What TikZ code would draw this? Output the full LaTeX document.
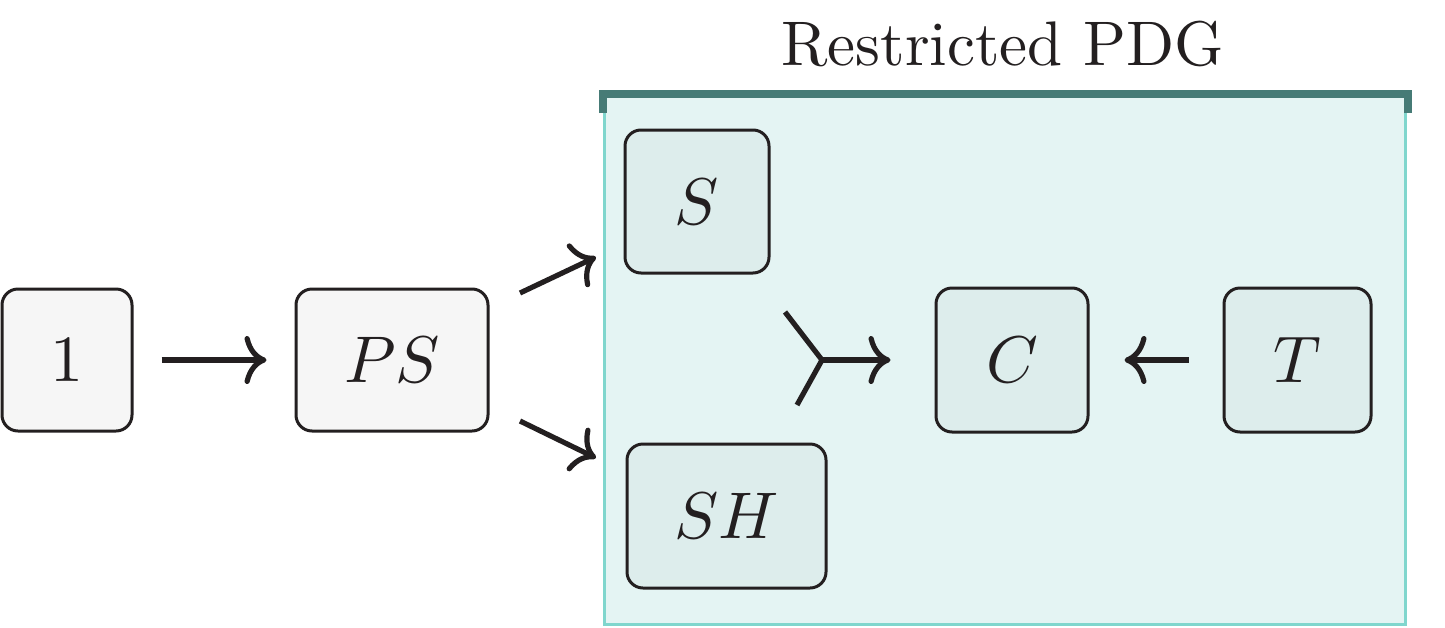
\documentclass[tikz,border=0pt]{standalone}
\usetikzlibrary{arrows.meta,calc}
\definecolor{nodeout}{HTML}{F6F6F6}
\definecolor{nodein}{HTML}{DDEDEC}
\definecolor{boxfill}{HTML}{E4F4F3}
\definecolor{boxline}{HTML}{80D6CD}
\definecolor{barcol}{HTML}{467B76}
\definecolor{ink}{HTML}{231F20}
\newcommand{\biglab}[1]{\scalebox{3.3}{$#1$}}
\begin{document}
\begin{tikzpicture}[x=0.5pt,y=-0.5pt,
  var/.style={draw=ink, line width=1.5pt, rounded corners=8pt, inner sep=0pt, text=ink},
  outer/.style={var, fill=nodeout},
  inner/.style={var, fill=nodein},
  arr/.style={draw=ink, line width=2.6pt, -{Computer Modern Rightarrow[length=11pt,width=24pt,line width=2.6pt]}},
  tail/.style={draw=ink, line width=2.6pt, line cap=butt}
]
\useasboundingbox (0,0) rectangle (1445,627);
% restricted region
\fill[boxfill] (604,98) rectangle (1406,624);
\draw[boxline, line width=1.3pt] (604.5,100) -- (604.5,624.5) -- (1405.5,624.5) -- (1405.5,100);
\draw[barcol, line width=4pt, line cap=butt, line join=miter] (602.5,113) -- (602.5,94) -- (1407.5,94) -- (1407.5,113);
\node[anchor=base, text=ink, inner sep=0pt] (title) at (1003,65) {\scalebox{3.15}{Restricted PDG}};
% nodes
\node[outer, minimum width=65pt, minimum height=71pt] (one) at (67,360) {\biglab{1}};
\node[outer, minimum width=96pt, minimum height=71pt] (ps) at (392,360) {\biglab{PS}};
\node[inner, minimum width=72pt, minimum height=71.5pt] (s) at (697,201.5) {\biglab{S}};
\node[inner, minimum width=99.5pt, minimum height=72pt] (sh) at (726.5,516) {\biglab{SH}};
\node[inner, minimum width=76pt, minimum height=72pt] (c) at (1012,360) {\biglab{C}};
\node[inner, minimum width=73.5pt, minimum height=72pt] (t) at (1297.5,360) {\biglab{T}};
% connectors
\draw[arr, shorten <=14pt, shorten >=14pt] (one) -- (ps);
\coordinate (p1) at (520,293);
\coordinate (q1) at (596,257);
\coordinate (p2) at (520,421);
\coordinate (q2) at (596,458);
\draw[arr] (p1) -- (q1);
\draw[arr] (p2) -- (q2);
\coordinate (mid) at (822,360);
\coordinate (ts) at (785,312);
\coordinate (tsh) at (797,405);
\draw[tail] (ts) -- (mid) -- (tsh);
\draw[arr, shorten >=22pt] (mid) -- (c);
\draw[arr, shorten <=17pt, shorten >=17.5pt] (t) -- (c);
\end{tikzpicture}
\end{document}
